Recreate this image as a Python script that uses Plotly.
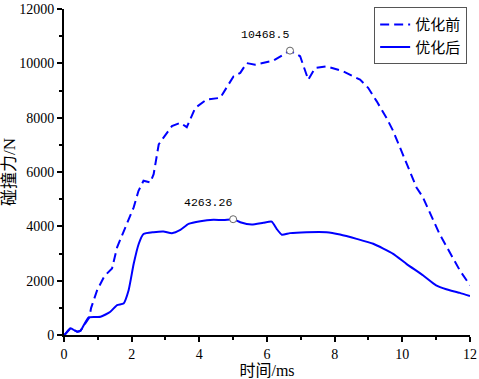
import plotly.graph_objects as go

# 优化前 (before optimization)
t_before = [0, 0.04, 0.19, 0.39, 0.49, 0.75, 0.80, 0.98, 1.19, 1.42, 1.57, 2.06, 2.2, 2.35, 2.55, 2.65,
            2.80, 2.94, 3.19, 3.44, 3.63, 3.88, 4.22, 4.62, 5.01, 5.21, 5.4, 5.65, 6.19, 6.68,
            6.98, 7.22, 7.42, 7.76, 8.25, 8.75, 8.99, 9.24, 9.53, 9.73, 10.02, 10.42, 10.6,
            11.1, 11.7, 12.0]
f_before = [0, 37, 245, 120, 160, 650, 990, 1650, 2160, 2450, 3230, 4700, 5300, 5680, 5615, 5920,
            7020, 7260, 7690, 7810, 7650, 8360, 8670, 8730, 9520, 9650, 10010, 9950, 10100, 10468.5,
            10260, 9400, 9830, 9890, 9710, 9400, 9100, 8610, 8000, 7510, 6650, 5430, 5090,
            3720, 2380, 1830]

# 优化后 (after optimization)
t_after = [0, 0.04, 0.19, 0.39, 0.49, 0.73, 1.08, 1.37, 1.57, 1.76, 1.91, 2.06, 2.21, 2.35, 2.65,
           2.94, 3.19, 3.44, 3.68, 4.03, 4.42, 4.72, 5.0, 5.21, 5.55, 5.89, 6.14, 6.29, 6.44,
           6.68, 7.17, 7.76, 8.16, 8.65, 9.14, 9.73, 10.12, 10.61, 11.0, 11.3, 11.7, 12.0]
f_after = [0, 37, 245, 120, 160, 650, 670, 855, 1100, 1160, 1650, 2620, 3360, 3720, 3785,
           3810, 3750, 3870, 4090, 4190, 4240, 4230, 4263.26, 4150, 4065, 4130, 4175, 3900, 3690,
           3750, 3785, 3785, 3700, 3540, 3360, 2990, 2620, 2200, 1830, 1685, 1550, 1430]

# peak markers
peak_t = [6.68, 5.0]
peak_f = [10468.5, 4263.26]
peak_labels = ["10468.5", "4263.26"]

x_ticks = [0, 2, 4, 6, 8, 10, 12]
x_ticktext = ["0", "2", "4", "6", "8", "10", "12"]
x_minor = [1, 3, 5, 7, 9, 11]
y_ticks = [0, 2000, 4000, 6000, 8000, 10000, 12000]
y_ticktext = ["0", "2000", "4000", "6000", "8000", "10000", "12000"]
y_minor = [1000, 3000, 5000, 7000, 9000, 11000]

serif = "Liberation Serif"
cjk = "Liberation Serif, Noto Sans CJK SC"
mono = "Liberation Mono"

fig = go.Figure()
fig.add_trace(go.Scatter(x=t_before, y=f_before, mode="lines", name="优化前",
                         line=dict(color="#0000FF", width=2, dash="9px,5px")))
fig.add_trace(go.Scatter(x=t_after, y=f_after, mode="lines", name="优化后",
                         line=dict(color="#0000FF", width=2, shape="spline", smoothing=0.5)))
fig.add_trace(go.Scatter(x=peak_t, y=peak_f, mode="markers", showlegend=False,
                         marker=dict(symbol="circle", size=7, color="white",
                                     line=dict(width=1, color="#666666")),
                         cliponaxis=False))
for xt, yf, lab in zip(peak_t, peak_f, peak_labels):
    fig.add_annotation(x=xt, y=yf, text=lab, showarrow=False, xanchor="right", yanchor="bottom",
                       xshift=1, yshift=8, font=dict(family=mono, size=11.5, color="black"))

axis_common = dict(showline=True, linecolor="black", linewidth=2, ticks="outside",
                   ticklen=5, tickwidth=1.5, tickcolor="black", showgrid=False, zeroline=False,
                   tickfont=dict(family=serif, size=14, color="black"),
                   mirror=False, automargin=False, ticklabeloverflow="allow")

fig.update_layout(
    width=479, height=379,
    margin=dict(l=64, r=9, t=7, b=44),
    plot_bgcolor="white", paper_bgcolor="white",
    xaxis=dict(range=[0, 12.001], tickvals=x_ticks, ticktext=x_ticktext,
               minor=dict(ticks="outside", ticklen=3, tickwidth=1.5, tickcolor="black",
                          tickvals=x_minor),
               title=dict(text="时间/ms", font=dict(family=cjk, size=16, color="black"), standoff=5),
               **axis_common),
    yaxis=dict(range=[0, 12001], tickvals=y_ticks, ticktext=y_ticktext,
               minor=dict(ticks="outside", ticklen=3, tickwidth=1.5, tickcolor="black",
                          tickvals=y_minor),
               title=dict(text="碰撞力/N", font=dict(family=cjk, size=17, color="black"), standoff=2),
               **axis_common),
    legend=dict(x=0.993, y=1.005, xanchor="right", yanchor="top",
                bordercolor="#555555", borderwidth=1, bgcolor="white",
                font=dict(family=cjk, size=15, color="black"), tracegroupgap=0),
    showlegend=True,
)

fig.write_html("out.html", config={"displayModeBar": False},
               post_script="document.body.style.margin='0';")
